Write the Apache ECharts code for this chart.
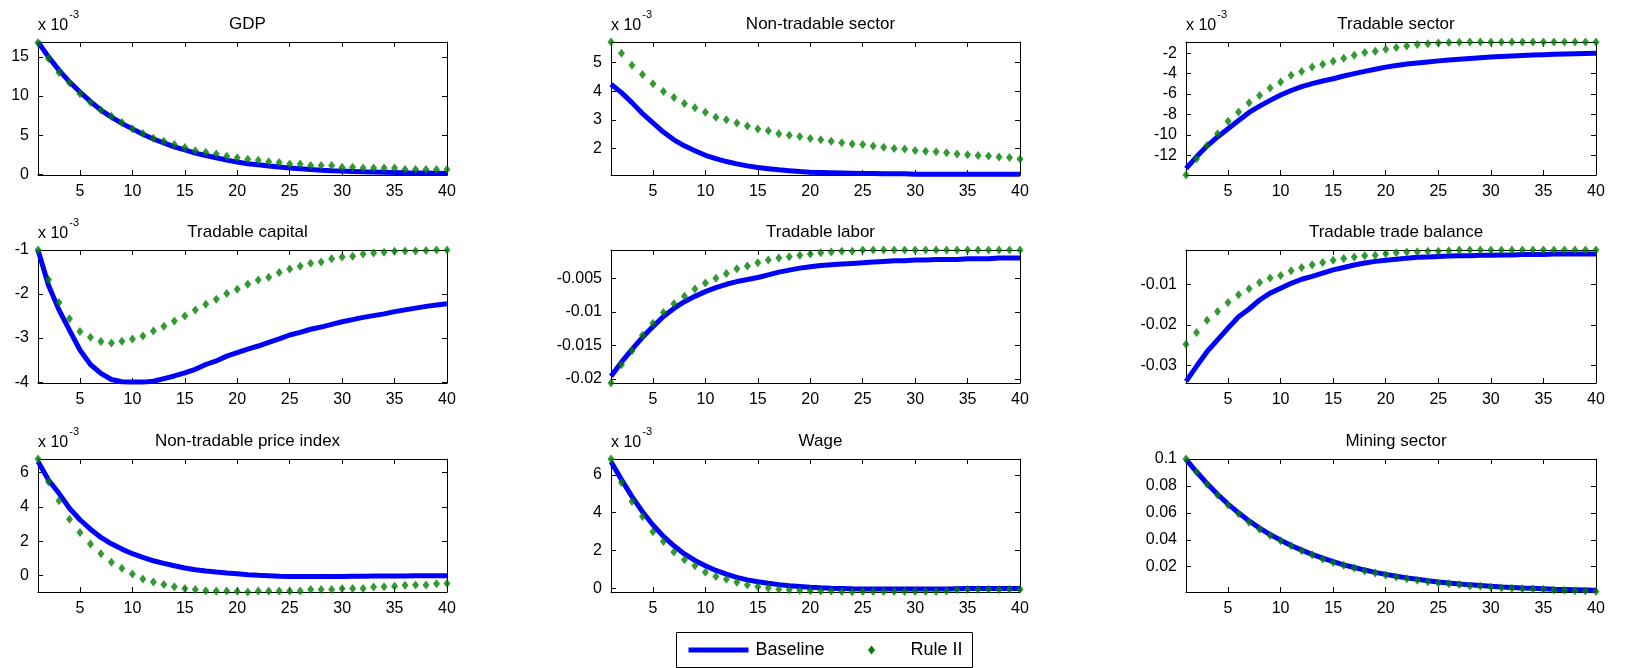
<!DOCTYPE html>
<html>
<head>
<meta charset="utf-8">
<script src="https://cdn.jsdelivr.net/npm/echarts@6/dist/echarts.min.js"></script>
<style>
  html, body { margin: 0; padding: 0; background: #fff; }
  #chart { width: 1648px; height: 668px; }
</style>
</head>
<body>
<div id="chart"></div>
<script>
var periods = [1,2,3,4,5,6,7,8,9,10,11,12,13,14,15,16,17,18,19,20,21,22,23,24,25,26,27,28,29,30,31,32,33,34,35,36,37,38,39,40];
var xTicks = [5,10,15,20,25,30,35,40];

// GDP (x 1e-3)
var gdpBase = [16.9,15.0,13.3,11.8,10.5,9.3,8.2,7.3,6.5,5.8,5.1,4.5,4.0,3.5,3.1,2.7,2.4,2.1,1.8,1.55,1.35,1.2,1.05,0.92,0.8,0.7,0.6,0.52,0.45,0.4,0.35,0.3,0.27,0.24,0.21,0.18,0.16,0.14,0.12,0.1];
var gdpRule = [16.8,14.8,13.0,11.7,10.3,9.2,8.2,7.4,6.6,5.8,5.2,4.6,4.2,3.8,3.4,3.0,2.8,2.6,2.3,2.1,1.9,1.8,1.6,1.5,1.3,1.3,1.1,1.1,1.1,0.9,0.9,0.8,0.8,0.8,0.8,0.6,0.6,0.6,0.6,0.6];
// Non-tradable sector (x 1e-3)
var ntBase = [4.24,3.95,3.6,3.22,2.89,2.57,2.3,2.09,1.92,1.76,1.64,1.54,1.46,1.39,1.33,1.29,1.25,1.22,1.19,1.17,1.16,1.15,1.14,1.13,1.12,1.12,1.11,1.11,1.11,1.1,1.1,1.1,1.1,1.1,1.1,1.1,1.1,1.1,1.1,1.1];
var ntRule = [5.72,5.33,4.91,4.58,4.26,3.99,3.78,3.57,3.42,3.26,3.09,3.0,2.89,2.78,2.68,2.62,2.51,2.46,2.42,2.35,2.3,2.25,2.2,2.15,2.14,2.08,2.04,2.0,1.98,1.93,1.9,1.88,1.85,1.8,1.78,1.75,1.73,1.7,1.68,1.63];
// Tradable sector (x 1e-3)
var tsBase = [-13.3,-12.15,-11.1,-10.2,-9.4,-8.6,-7.8,-7.18,-6.62,-6.1,-5.65,-5.28,-4.98,-4.72,-4.5,-4.23,-4.0,-3.78,-3.57,-3.36,-3.2,-3.06,-2.95,-2.85,-2.75,-2.66,-2.58,-2.51,-2.44,-2.38,-2.32,-2.27,-2.22,-2.18,-2.14,-2.11,-2.08,-2.05,-2.02,-2.0];
var tsRule = [-13.93,-12.33,-11.05,-9.9,-8.66,-7.77,-6.85,-6.13,-5.41,-4.82,-4.16,-3.8,-3.34,-3.08,-2.79,-2.49,-2.2,-1.93,-1.8,-1.6,-1.45,-1.3,-1.15,-1.07,-1.0,-0.96,-0.93,-0.9,-0.9,-0.9,-0.9,-0.9,-0.9,-0.9,-0.9,-0.9,-0.9,-0.9,-0.9,-0.9];
// Tradable capital (x 1e-3)
var tkBase = [-1.0,-1.8,-2.36,-2.82,-3.27,-3.6,-3.8,-3.94,-3.99,-4.0,-4.0,-3.98,-3.92,-3.86,-3.79,-3.71,-3.6,-3.52,-3.41,-3.33,-3.25,-3.18,-3.1,-3.02,-2.93,-2.87,-2.8,-2.75,-2.69,-2.63,-2.58,-2.53,-2.49,-2.45,-2.4,-2.36,-2.32,-2.28,-2.25,-2.22];
var tkRule = [-1.0,-1.67,-2.19,-2.56,-2.85,-2.98,-3.08,-3.11,-3.07,-3.02,-2.95,-2.84,-2.73,-2.61,-2.5,-2.36,-2.23,-2.12,-1.99,-1.89,-1.78,-1.68,-1.62,-1.51,-1.43,-1.37,-1.3,-1.27,-1.2,-1.16,-1.14,-1.09,-1.07,-1.05,-1.03,-1.02,-1.02,-1.01,-1.0,-1.0];
// Tradable labor
var tlBase = [-0.0196,-0.0175,-0.0156,-0.0138,-0.0122,-0.0107,-0.0095,-0.0085,-0.0077,-0.007,-0.0064,-0.0059,-0.0055,-0.0052,-0.0049,-0.0045,-0.0041,-0.0038,-0.0035,-0.0033,-0.0031,-0.003,-0.0029,-0.0028,-0.0027,-0.0026,-0.0025,-0.0024,-0.0024,-0.0023,-0.0023,-0.0022,-0.0022,-0.0022,-0.0021,-0.0021,-0.0021,-0.002,-0.002,-0.002];
var tlRule = [-0.0206,-0.0179,-0.0158,-0.0135,-0.0117,-0.0101,-0.0088,-0.0077,-0.0066,-0.0057,-0.005,-0.0043,-0.0036,-0.0032,-0.0027,-0.0023,-0.002,-0.0018,-0.0016,-0.0014,-0.0012,-0.0011,-0.001,-0.001,-0.0008,-0.0008,-0.0008,-0.0008,-0.0008,-0.0008,-0.0008,-0.0008,-0.0008,-0.0008,-0.0008,-0.0008,-0.0008,-0.0008,-0.0008,-0.0008];
// Tradable trade balance
var tbBase = [-0.0339,-0.0302,-0.0266,-0.0237,-0.0208,-0.018,-0.0161,-0.0139,-0.0122,-0.011,-0.0098,-0.0088,-0.0081,-0.0073,-0.0065,-0.0059,-0.0053,-0.0048,-0.0044,-0.0041,-0.0039,-0.0036,-0.0034,-0.0033,-0.0032,-0.0031,-0.003,-0.003,-0.0029,-0.0029,-0.0028,-0.0028,-0.0027,-0.0027,-0.0027,-0.0026,-0.0026,-0.0026,-0.0026,-0.0026];
var tbRule = [-0.0248,-0.0219,-0.0189,-0.0167,-0.0145,-0.0126,-0.0111,-0.0096,-0.0085,-0.0079,-0.0067,-0.0059,-0.0052,-0.0047,-0.0041,-0.0037,-0.0033,-0.003,-0.0029,-0.0025,-0.0023,-0.0021,-0.002,-0.0019,-0.0019,-0.0018,-0.0016,-0.0016,-0.0016,-0.0016,-0.0016,-0.0016,-0.0016,-0.0016,-0.0016,-0.0016,-0.0016,-0.0016,-0.0016,-0.0016];
// Non-tradable price index (x 1e-3)
var npBase = [6.65,5.58,4.8,3.93,3.26,2.71,2.23,1.86,1.55,1.28,1.07,0.87,0.72,0.58,0.45,0.35,0.27,0.21,0.16,0.12,0.06,0.02,0,-0.03,-0.04,-0.04,-0.04,-0.04,-0.04,-0.04,-0.03,-0.03,-0.02,-0.02,-0.02,-0.02,-0.01,-0.01,-0.01,-0.01];
var npRule = [6.8,5.48,4.36,3.29,2.52,1.84,1.28,0.78,0.43,0.1,-0.19,-0.37,-0.52,-0.64,-0.74,-0.81,-0.87,-0.89,-0.89,-0.91,-0.95,-0.89,-0.89,-0.89,-0.89,-0.89,-0.81,-0.81,-0.81,-0.74,-0.74,-0.74,-0.66,-0.64,-0.62,-0.56,-0.54,-0.54,-0.47,-0.45];
// Wage (x 1e-3)
var wgBase = [6.7,5.75,4.85,4.05,3.35,2.75,2.25,1.82,1.48,1.2,0.95,0.75,0.58,0.45,0.35,0.27,0.2,0.14,0.1,0.06,0.03,0.01,0,-0.02,-0.03,-0.03,-0.03,-0.03,-0.03,-0.03,-0.03,-0.03,-0.03,-0.02,-0.01,-0.01,-0.01,-0.01,-0.01,-0.01];
var wgRule = [6.84,5.6,4.59,3.8,3.0,2.48,1.92,1.51,1.2,0.86,0.63,0.49,0.32,0.18,0.09,0.02,-0.04,-0.07,-0.1,-0.12,-0.14,-0.14,-0.16,-0.19,-0.16,-0.16,-0.16,-0.16,-0.16,-0.16,-0.16,-0.16,-0.14,-0.07,-0.06,-0.06,-0.05,-0.06,-0.05,-0.05];
// Mining sector
var mnBase = [0.0998,0.0905,0.0818,0.0738,0.0665,0.06,0.054,0.0487,0.0439,0.0397,0.0358,0.0323,0.0292,0.0263,0.0237,0.0214,0.0194,0.0175,0.0158,0.0143,0.0129,0.0117,0.0106,0.0096,0.0087,0.0079,0.0072,0.0065,0.006,0.0055,0.005,0.0046,0.0042,0.0039,0.0036,0.0033,0.0031,0.0029,0.0027,0.0025];
var mnRule = [0.1,0.0904,0.0812,0.0733,0.0659,0.0593,0.0531,0.0479,0.0432,0.0393,0.0356,0.0319,0.0289,0.0257,0.0232,0.021,0.019,0.0168,0.0153,0.0138,0.0123,0.0111,0.0099,0.0089,0.0079,0.0074,0.0067,0.0057,0.0054,0.0047,0.0044,0.0039,0.0037,0.0035,0.0032,0.0027,0.0025,0.0022,0.002,0.0015];

var panels = [
  { title: 'GDP', base: gdpBase, rule: gdpRule, yMin: -0.1, yMax: 16.9, yTicks: [0,5,10,15], exp: true },
  { title: 'Non-tradable sector', base: ntBase, rule: ntRule, yMin: 1.07, yMax: 5.72, yTicks: [2,3,4,5], exp: true },
  { title: 'Tradable sector', base: tsBase, rule: tsRule, yMin: -13.93, yMax: -0.9, yTicks: [-12,-10,-8,-6,-4,-2], exp: true },
  { title: 'Tradable capital', base: tkBase, rule: tkRule, yMin: -4.02, yMax: -1.0, yTicks: [-4,-3,-2,-1], exp: true },
  { title: 'Tradable labor', base: tlBase, rule: tlRule, yMin: -0.0206, yMax: -0.0008, yTicks: [-0.02,-0.015,-0.01,-0.005], exp: false },
  { title: 'Tradable trade balance', base: tbBase, rule: tbRule, yMin: -0.0343, yMax: -0.0016, yTicks: [-0.03,-0.02,-0.01], exp: false },
  { title: 'Non-tradable price index', base: npBase, rule: npRule, yMin: -0.95, yMax: 6.8, yTicks: [0,2,4,6], exp: true },
  { title: 'Wage', base: wgBase, rule: wgRule, yMin: -0.19, yMax: 6.84, yTicks: [0,2,4,6], exp: true },
  { title: 'Mining sector', base: mnBase, rule: mnRule, yMin: 0.0012, yMax: 0.1, yTicks: [0.02,0.04,0.06,0.08,0.1], exp: false }
];

var colLeft = [38, 611, 1186];
var colWidth = [409, 409, 410];
var rowTop = [42, 250, 459];
var gridH = 133;
var font = 'Liberation Sans, Arial, sans-serif';
var blue = '#0000ff', green = '#008000';

// width of the "x 10" prefix so the exponent sits right after it
var ctx = document.createElement('canvas').getContext('2d');
ctx.font = '16px "Liberation Sans"';
var expW = ctx.measureText('x 10').width;

var myChart = echarts.init(document.getElementById('chart'));
var option = {
  backgroundColor: '#fff',
  animation: false,
  title: [], grid: [], xAxis: [], yAxis: [], series: [], graphic: []
};

function pairs(vals) {
  return periods.map(function (p, i) { return [p, vals[i]]; });
}

panels.forEach(function (p, k) {
  var r = Math.floor(k / 3), c = k % 3;
  var left = colLeft[c], top = rowTop[r], w = colWidth[c];
  option.grid.push({ left: left, top: top, width: w, height: gridH });
  option.title.push({
    text: p.title, left: left + w / 2, top: top - 31, textAlign: 'center',
    textStyle: { fontFamily: font, fontSize: 17, fontWeight: 'normal', color: '#000' }
  });
  var axisLine = { show: true, onZero: false, lineStyle: { color: '#000', width: 1 } };
  var tick = function (vals) {
    return { show: true, inside: true, length: 5, customValues: vals, lineStyle: { color: '#000' } };
  };
  option.xAxis.push({
    type: 'value', gridIndex: k, min: 1, max: 40, position: 'bottom',
    axisLine: axisLine, splitLine: { show: false }, axisTick: tick(xTicks),
    axisLabel: { customValues: xTicks, margin: 9, fontFamily: font, fontSize: 16, color: '#000' }
  });
  option.xAxis.push({
    type: 'value', gridIndex: k, min: 1, max: 40, position: 'top',
    axisLine: axisLine, splitLine: { show: false }, axisTick: tick(xTicks),
    axisLabel: { show: false }
  });
  option.yAxis.push({
    type: 'value', gridIndex: k, min: p.yMin, max: p.yMax, position: 'left',
    axisLine: axisLine, splitLine: { show: false }, axisTick: tick(p.yTicks),
    axisLabel: { customValues: p.yTicks, margin: 9, fontFamily: font, fontSize: 16, color: '#000',
      formatter: function (v) { return String(v); } }
  });
  option.yAxis.push({
    type: 'value', gridIndex: k, min: p.yMin, max: p.yMax, position: 'right',
    axisLine: axisLine, splitLine: { show: false }, axisTick: tick(p.yTicks),
    axisLabel: { show: false }
  });
  option.series.push({
    name: 'Baseline', type: 'line', xAxisIndex: 2 * k, yAxisIndex: 2 * k,
    data: pairs(p.base), symbol: 'none', clip: false, z: 2,
    lineStyle: { color: blue, width: 5 }
  });
  option.series.push({
    name: 'Rule II', type: 'scatter', xAxisIndex: 2 * k, yAxisIndex: 2 * k,
    data: pairs(p.rule), symbol: 'diamond', symbolSize: [7, 9], clip: false, z: 3,
    itemStyle: { color: green }
  });
  if (p.exp) {
    option.graphic.push({
      type: 'text', left: left, top: top - 24,
      style: { text: 'x 10', fontFamily: font, fontSize: 16, fill: '#000' }
    });
    option.graphic.push({
      type: 'text', left: left + expW + 1, top: top - 33,
      style: { text: '-3', fontFamily: font, fontSize: 11, fill: '#000' }
    });
  }
});

// MATLAB-style legend box
option.graphic.push({
  type: 'group', left: 676, top: 632,
  children: [
    { type: 'rect', shape: { x: 0, y: 0, width: 296, height: 35 },
      style: { fill: '#fff', stroke: '#000', lineWidth: 1 } },
    { type: 'line', shape: { x1: 12, y1: 17.5, x2: 72, y2: 17.5 },
      style: { stroke: blue, lineWidth: 5 } },
    { type: 'text', x: 79, y: 17.5,
      style: { text: 'Baseline', fontFamily: font, fontSize: 18, fill: '#000', verticalAlign: 'middle' } },
    { type: 'polygon', shape: { points: [[195, 13], [198.5, 17.5], [195, 22], [191.5, 17.5]] },
      style: { fill: green } },
    { type: 'text', x: 286, y: 17.5,
      style: { text: 'Rule II', fontFamily: font, fontSize: 18, fill: '#000', align: 'right', verticalAlign: 'middle' } }
  ]
});

myChart.setOption(option);
window.addEventListener('resize', function () {
  myChart.resize();
});
</script>
</body>
</html>
